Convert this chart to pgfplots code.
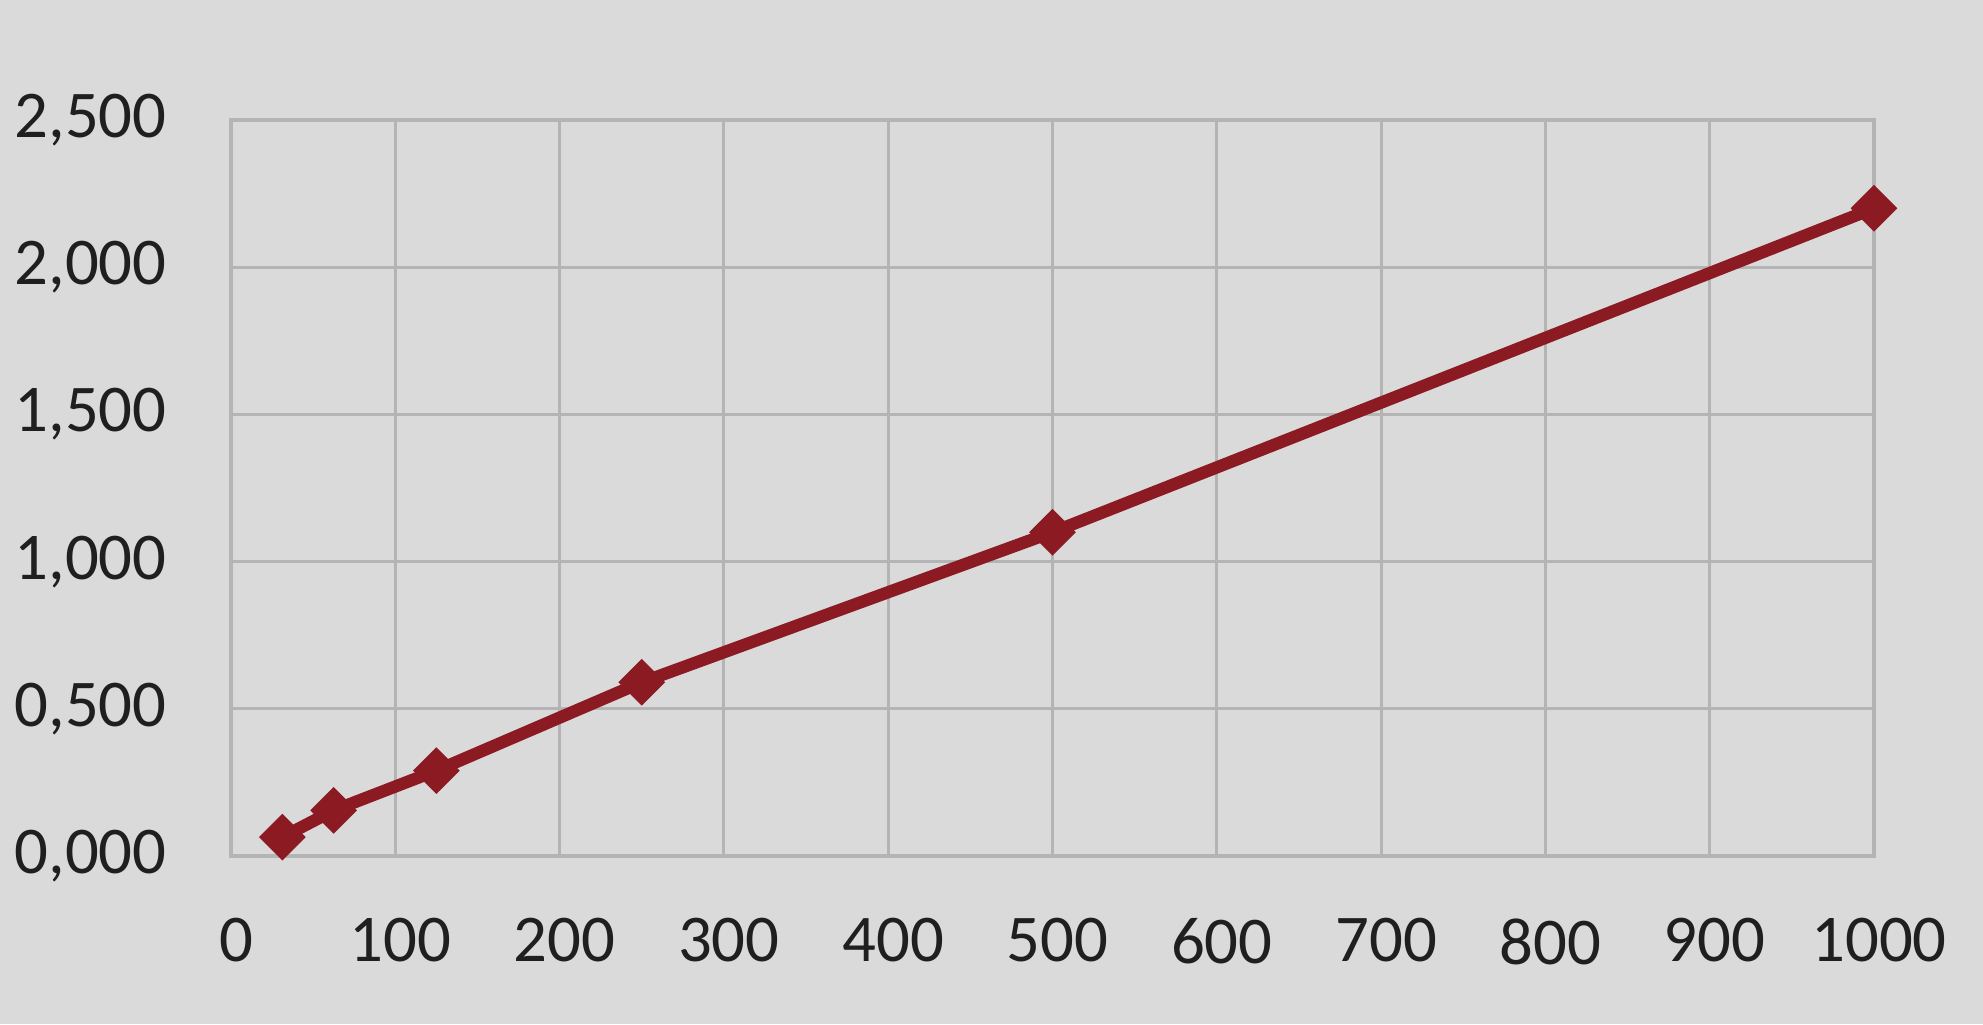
\documentclass[border=0pt]{standalone}
\usepackage{pgfplots}
\pgfplotsset{compat=1.18}
\usepackage{fontspec}
\setmainfont{Carlito}
\definecolor{bg}{HTML}{DADADA}
\definecolor{gridc}{HTML}{B4B4B4}
\definecolor{serie}{HTML}{8B1A22}
\begin{document}
\begin{tikzpicture}
\fill[bg] (-2.31cm,-1.68cm) rectangle ++(19.83cm,10.24cm);
\begin{axis}[
  at={(0,0)}, anchor=south west,
  scale only axis,
  width=16.43cm, height=7.36cm,
  xmin=0, xmax=1000, ymin=0, ymax=2.5,
  xtick={0,100,...,1000},
  ytick={0,0.5,...,2.5},
  grid=major,
  major grid style={gridc, line width=0.9pt},
  axis line style={gridc, line width=0.9pt},
  tick style={draw=none},
  /pgf/number format/assume math mode=true,
  yticklabel style={/pgf/number format/fixed, /pgf/number format/fixed zerofill, /pgf/number format/precision=3, /pgf/number format/use comma, /pgf/number format/1000 sep={}, xshift=-0.52cm},
  xticklabel style={/pgf/number format/1000 sep={}, yshift=-0.5cm, xshift=0.05cm},
  ticklabel style={font=\fontsize{19}{22}\selectfont, text=black!88},
]
\addplot[serie, line width=3.5pt, mark=square*, mark size=4.2pt, mark options={fill=serie, draw=serie, rotate=45, line width=1pt}]
coordinates {
(31.25,0.064)
(62.5,0.155)
(125,0.29)
(250,0.59)
(500,1.10)
(1000,2.20)
};
\end{axis}
\pgfresetboundingbox
\path (-2.31cm,-1.68cm) rectangle ++(19.83cm,10.24cm);
\end{tikzpicture}
\end{document}
